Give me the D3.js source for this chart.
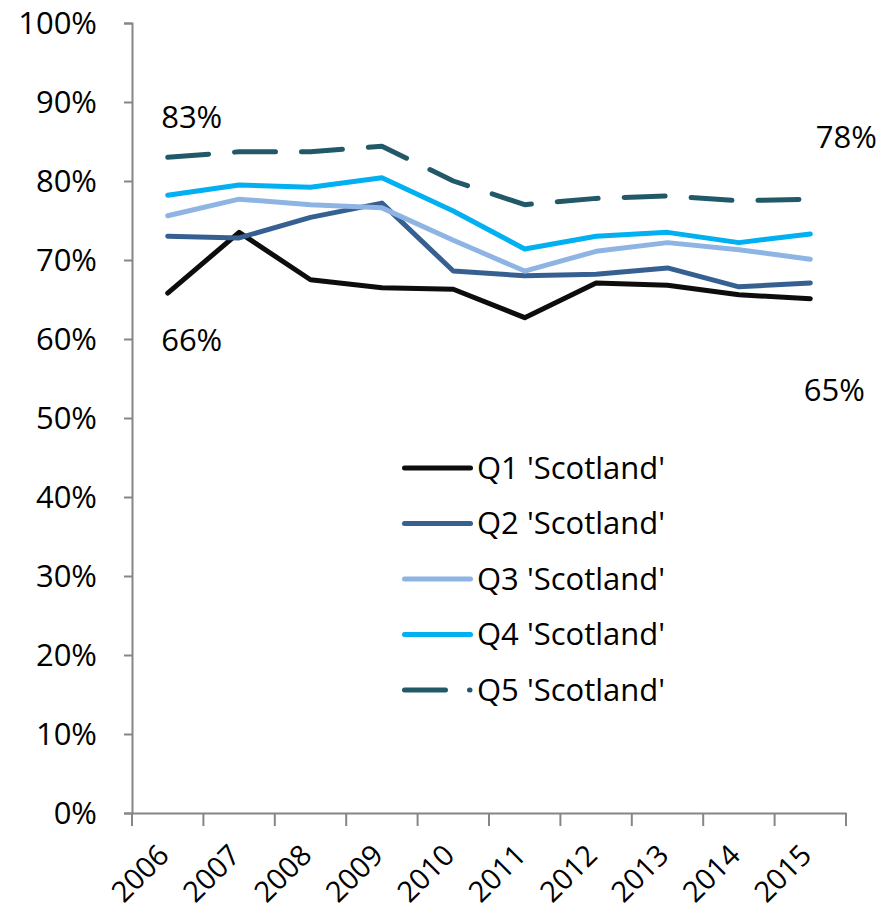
<!DOCTYPE html>
<html><head><meta charset="utf-8">
<script src="https://cdn.jsdelivr.net/npm/d3@7"></script>
<style>
html,body{margin:0;padding:0;background:#fff;}
svg text{font-family:"Open Sans",Lato,sans-serif;fill:#000;}
</style></head>
<body>
<svg id="chart" width="881" height="916"></svg>
<script>
const years = ["2006","2007","2008","2009","2010","2011","2012","2013","2014","2015"];
const seriesNames = ["Q1 'Scotland'","Q2 'Scotland'","Q3 'Scotland'","Q4 'Scotland'","Q5 'Scotland'"];
const q1 = [65.8,73.5,67.5,66.5,66.3,62.7,67.1,66.8,65.6,65.1];
const q2 = [73.0,72.8,75.4,77.2,68.6,68.0,68.2,69.0,66.6,67.1];
const q3 = [75.6,77.7,77.0,76.6,72.5,68.6,71.1,72.2,71.3,70.1];
const q4 = [78.2,79.5,79.2,80.4,76.2,71.4,73.0,73.5,72.2,73.3];
const q5 = [83.0,83.7,83.7,84.4,80.0,77.0,77.8,78.1,77.5,77.7];
const yTicks = [0,10,20,30,40,50,60,70,80,90,100];
const colors = ["#0d0d0d","#376092","#8eb4e3","#00b0f0","#215968"];
const dashes = [null,null,null,null,"41,26"];
const endLabels = [
  {series:0, idx:0, text:"66%"},
  {series:0, idx:9, text:"65%"},
  {series:4, idx:0, text:"83%"},
  {series:4, idx:9, text:"78%"}
];
const data = [q1,q2,q3,q4,q5];

const svg = d3.select("#chart");
const mLeft = 132, mRight = 846, mTop = 23, mBottom = 813;
const x = d3.scaleBand().domain(years).range([mLeft,mRight]);
const y = d3.scaleLinear().domain([0,100]).range([mBottom,mTop]);
const axisColor = "#868686";
const fs = "31px";

// Y axis
const yAxis = svg.append("g").attr("transform",`translate(${mLeft},0)`)
  .call(d3.axisLeft(y).tickValues(yTicks).tickSize(8).tickPadding(27).tickFormat(d=>d+"%"));
yAxis.select(".domain").attr("stroke",axisColor).attr("stroke-width",2);
yAxis.selectAll(".tick line").attr("stroke",axisColor).attr("stroke-width",2);
yAxis.selectAll(".tick text").style("font-size",fs).attr("dy","0.35em").attr("font-family",null);

// X axis
const xAxis = svg.append("g").attr("transform",`translate(0,${mBottom})`)
  .call(d3.axisBottom(x).tickSize(0).tickFormat(""));
xAxis.select(".domain").attr("stroke",axisColor).attr("stroke-width",2);
const bounds = years.map(d=>x(d)).concat([mRight]);
xAxis.selectAll(".xt").data(bounds).enter().append("line")
  .attr("x1",d=>d).attr("x2",d=>d).attr("y1",0).attr("y2",13)
  .attr("stroke",axisColor).attr("stroke-width",2);
xAxis.selectAll(".xl").data(years).enter().append("text")
  .attr("transform",d=>`translate(${x(d)+x.bandwidth()/2+3},${44}) rotate(-45)`)
  .attr("text-anchor","end")
  .style("font-size","29px").text(d=>d);

// Lines
const line = d3.line().x((d,i)=>x(years[i])+x.bandwidth()/2).y(d=>y(d));
data.forEach((s,k)=>{
  svg.append("path").datum(s).attr("d",line)
    .attr("fill","none").attr("stroke",colors[k]).attr("stroke-width",5)
    .attr("stroke-linejoin","round").attr("stroke-linecap","round")
    .attr("stroke-dasharray",dashes[k]);
});

// Data labels
endLabels.forEach(l=>{
  const v = data[l.series][l.idx];
  const cx = x(years[l.idx])+x.bandwidth()/2;
  let dx=0, dy=0;
  if(l.text==="66%"){dx=24;dy=47;}
  if(l.text==="65%"){dx=24;dy=91;}
  if(l.text==="83%"){dx=24;dy=-40;}
  if(l.text==="78%"){dx=36;dy=-62;}
  svg.append("text").attr("x",cx+dx).attr("y",y(v)+dy).attr("dy","0.35em")
    .attr("text-anchor","middle").style("font-size",fs).text(l.text);
});

// Legend
const lg = svg.append("g");
seriesNames.forEach((n,k)=>{
  const yy = 468 + k*55.5;
  lg.append("line").attr("x1",404.5).attr("x2",k===4?470:470.5).attr("y1",yy).attr("y2",yy)
    .attr("stroke",colors[k]).attr("stroke-width",5).attr("stroke-linecap","round")
    .attr("stroke-dasharray",k===4?"41,24":dashes[k]);
  lg.append("text").attr("x",477).attr("y",yy).attr("dy","0.35em")
    .style("font-size",fs).text(n);
});
</script>
</body></html>
